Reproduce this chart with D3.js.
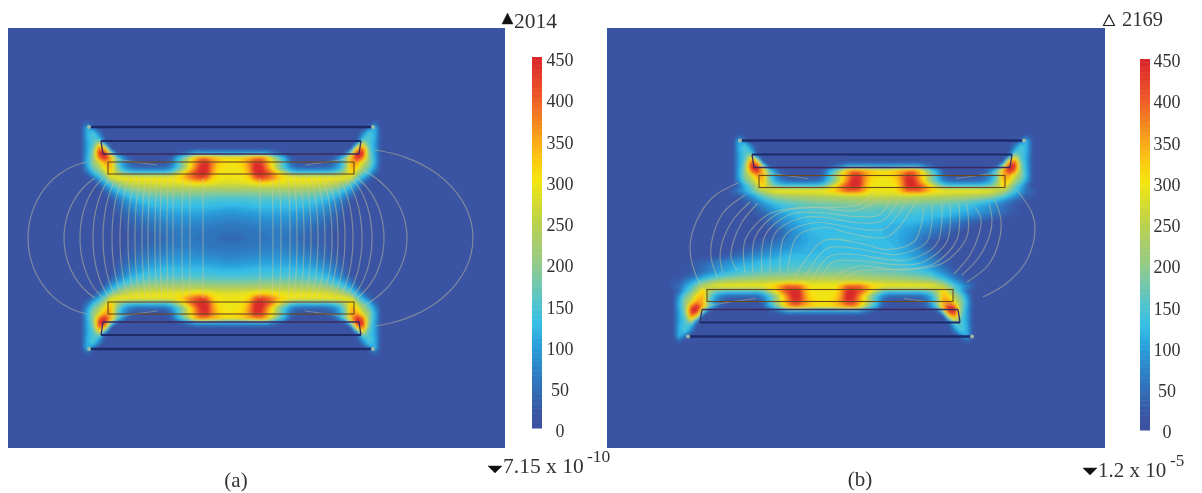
<!DOCTYPE html>
<html>
<head>
<meta charset="utf-8">
<script src="https://cdn.jsdelivr.net/npm/d3@7"></script>
<style>
    html, body { margin: 0; padding: 0; background: #fff; }
    svg { display: block; }
    text { font-family: "Liberation Serif", serif; fill: #333; }
</style>
</head>
<body>
<svg id="chart" width="1202" height="493"></svg>
<script>
// Colour bar
const barTicks = [0, 50, 100, 150, 200, 250, 300, 350, 400, 450];
const colorValues = [0, 15, 50, 100, 125, 150, 175, 200, 225, 250, 275, 300, 325, 350, 400, 450];
const colorHex = ['#3a4f9f', '#3a54a3', '#2f6fb8', '#2a9fdb', '#34bde6', '#4fc4cf', '#72c7ab', '#94cb86',
    '#a8cc6a', '#bcd24a', '#d7dc2c', '#f4e60f', '#fcc911', '#f9a51a', '#ee5a26', '#d8232c'];

// Field, one corner of the coil pair in (a).
// Columns run from the outer edge to the middle, rows from the top to the mid plane.
const backgroundValue = 15;
const cornerRows = [
    [15,15,15,15,15,15,15,15,15,15,15,15,15,15,15,15,15,15,15,15,15,15,15,15,15],
    [40,15,15,15,15,15,15,15,15,15,15,15,15,15,15,15,15,15,15,15,15,15,15,15,15],
    [120,60,12,12,12,12,12,12,12,12,12,12,12,12,12,12,12,12,12,12,12,12,12,12,12],
    [110,150,70,12,12,12,12,12,12,12,12,12,12,12,12,12,12,12,12,12,12,12,12,12,12],
    [110,150,120,15,12,12,12,12,12,12,12,12,12,12,12,12,12,12,12,12,12,12,12,12,12],
    [100,150,240,60,12,12,12,12,12,12,12,12,12,12,12,12,12,12,12,12,12,12,12,12,12],
    [100,170,380,300,15,12,12,12,12,12,12,12,12,12,12,12,12,12,12,12,12,12,12,12,12],
    [100,190,440,450,200,30,12,12,12,12,12,12,12,12,12,20,40,60,100,100,100,100,100,100,100],
    [110,200,380,440,350,180,90,30,15,15,15,15,15,15,30,110,170,250,340,390,380,350,330,315,310],
    [110,200,260,350,350,170,90,45,25,15,15,15,15,20,50,125,200,290,360,430,440,370,320,305,300],
    [90,170,220,310,340,190,110,70,50,45,45,45,45,50,80,135,195,290,370,450,450,360,310,300,295],
    [45,120,170,240,320,230,180,160,150,150,150,150,150,150,170,230,300,370,420,450,440,350,300,295,295],
    [15,50,110,170,270,300,300,300,300,300,300,300,300,300,300,310,330,370,400,420,390,320,300,295,290],
    [15,15,50,110,170,210,240,260,270,275,280,280,285,285,285,285,290,300,305,310,300,290,285,280,280],
    [15,15,15,60,110,150,180,200,215,225,230,235,235,240,240,240,240,240,240,240,240,235,235,235,235],
    [15,15,15,25,70,105,130,150,165,175,185,190,190,195,195,195,195,195,195,195,190,190,190,190,190],
    [15,15,15,15,35,65,90,115,130,145,150,155,155,160,160,160,160,160,160,160,160,155,155,155,155],
    [15,15,15,15,15,40,65,85,105,115,125,130,132,135,135,135,135,135,135,135,135,135,130,130,130],
    [15,15,15,15,15,30,50,70,85,95,105,110,115,118,120,120,120,120,120,120,120,115,115,110,110],
    [15,15,15,15,15,22,38,52,65,75,85,90,95,100,100,105,105,105,105,105,100,98,95,92,90],
    [15,15,15,15,15,18,28,40,50,60,68,75,80,85,88,90,90,90,90,88,85,82,80,78,75],
    [15,15,15,15,15,15,22,30,40,48,55,60,65,70,75,78,78,78,78,75,72,70,68,65,62],
    [15,15,15,15,15,15,18,25,32,38,45,50,55,60,65,68,70,70,68,65,62,60,58,56,55],
    [15,15,15,15,15,15,15,22,28,32,38,42,48,52,58,62,64,64,62,60,56,54,52,50,50],
    [15,15,15,15,15,15,15,20,25,30,34,38,42,48,54,58,60,60,58,56,52,50,48,46,46]
];
// How many cornerRows the offset coil in (b) reuses before the gap takes over
const sharedRows = 12;

// Field in the gap of (b), upper half only, the lower half is the same turned round
const gapRows = [
    [15,15,15,70,150,250,300,300,300,300,300,330,400,390,300,295,300,390,400,330,300,300,300,300,290,240,140,50,15],
    [15,15,15,25,90,165,210,225,235,240,245,250,255,260,265,265,260,260,255,250,245,240,235,225,210,160,90,30,15],
    [15,15,15,15,50,110,160,175,185,195,200,205,210,215,215,215,215,210,205,200,195,185,175,160,130,90,40,15,15],
    [15,15,15,15,25,75,115,140,155,160,165,170,175,180,180,175,175,170,165,160,155,145,135,110,85,50,20,15,15],
    [15,15,15,15,15,50,95,120,135,145,150,155,155,160,160,155,155,150,145,140,135,125,115,95,75,50,25,15,15],
    [15,15,15,15,15,30,75,105,125,135,140,145,145,145,145,140,140,135,130,125,120,105,90,70,50,30,15,15,15],
    [15,15,15,15,15,20,60,90,115,125,130,130,130,130,130,130,125,125,120,105,90,70,50,30,15,15,15,15,15],
    [15,15,15,15,15,15,45,80,105,120,125,125,125,125,125,120,115,110,100,85,65,45,25,15,15,15,15,15,15],
    [15,15,15,15,15,15,30,65,100,120,125,125,125,125,125,120,115,105,85,65,45,25,15,15,15,15,15,15,15],
    [15,15,15,15,15,15,25,65,95,115,125,130,130,130,130,120,115,95,70,50,30,15,15,15,15,15,15,15,15]
];

// Coil outline, distances from the coil's own centre
const conductorHalfWidths = [141, 130, 128];
const conductorHeights = [111, 97, 84];
const conductorWeights = [2.6, 1.8, 1.4];
const windingHalfWidth = 123;
const windingHeights = [76, 64];

// Flux lines of (a): offset at the mid plane, offset at the coil, height at the coil, swing of the arc
const leftMidOffsets = [203, 167, 151, 138, 128, 119, 111, 103, 96, 89, 83, 76, 71, 64, 58, 49, 41, 28];
const leftEndOffsets = [144, 136, 128, 121, 114, 108, 102, 96, 91, 85, 80, 74, 69, 63, 57, 48, 41, 28];
const leftEndHeights = [76, 60, 60, 60, 60, 60, 60, 60, 60, 60, 60, 60, 60, 60, 60, 60, 60, 60];
const rightMidOffsets = [242, 176, 153, 141, 131, 122, 114, 107, 101, 94, 87, 80, 73, 66, 59, 50, 42, 29];
const rightEndOffsets = [144, 132, 126, 120, 114, 108, 102, 96, 91, 85, 80, 74, 69, 63, 57, 48, 41, 29];
const rightEndHeights = [88, 68, 60, 60, 60, 60, 60, 60, 60, 60, 60, 60, 60, 60, 60, 60, 60, 60];
const outerSwing = 80;
const innerSwing = 60;

// Flux lines of (b), read as x,y pairs relative to the middle of the panel
const outerArcsB = [
    [[-118, 55.5], [-143, 41.5], [-159, 18.5], [-166, -8.5], [-161, -34.5], [-154, -48.5]],
    [[-111, 43.5], [-133, 25.5], [-144, -1.5], [-145, -18.5], [-139, -38.5]],
    [[-106, 36.5], [-123, 18.5], [-134, -4.5], [-136, -19.5], [-133, -34.5]],
    [[-98, 35.5], [-114, 16.5], [-123, -4.5], [-125, -19.5], [-119, -31.5]]
];
const extraArcB = [[161, 48.5], [176, 25.5], [179, 8.5], [171, -21.5], [151, -44.5], [127, -58.5]];
const waveLinesB = [
    [[-111, -34], [-111, -2], [-88, 24], [-56, 31], [0, 33], [18, 46]],
    [[-103, -35], [-101, 1], [-78, 25], [-41, 31], [0, 28], [28, 43]],
    [[-94, -35], [-91, 3], [-66, 24], [-36, 26], [0, 22], [24, 24], [36, 43]],
    [[-86, -35], [-81, 5], [-53, 21], [-31, 21], [0, 16], [27, 18], [44, 41]],
    [[-76, -35], [-71, 3], [-41, 16], [-21, 14], [0, 10], [29, 10], [52, 40]],
    [[-68, -32], [-59, 2], [-31, 11], [-13, 7], [0, 4], [32, 2], [61, 38]]
];
const channelLine = [[121, 80], [97, 76], [74, 73]];

const fieldColor = d3.scaleLinear().domain(colorValues).range(colorHex);
const bandEdges = d3.range(20, 450, 10);
const svg = d3.select('#chart');

// Soft look of the scan
const defs = svg.append('defs');
[['soft', 1.2], ['softLine', 0.65], ['softText', 0.3]].forEach(([id, sd]) => {
    const f = defs.append('filter').attr('id', id)
        .attr('x', '-5%').attr('y', '-5%').attr('width', '110%').attr('height', '110%');
    f.append('feGaussianBlur').attr('stdDeviation', sd);
});

// Mirror the corner into all four corners of (a)
function buildGridA() {
    const cols = 53, rows = 49;
    const grid = new Array(cols * rows).fill(backgroundValue);
    cornerRows.forEach((row, r) => {
        row.forEach((v, i) => {
            const off = row.length - 1 - i;
            [r, rows - 1 - r].forEach(rr => {
                grid[rr * cols + 26 - off] = v;
                grid[rr * cols + 26 + off] = v;
            });
        });
    });
    return { grid, cols, rows, x0: -156, y0: 120 };
}

// Offset coil plus gap for (b), then turn the upper half round for the lower half
function buildGridB() {
    const cols = 61, rows = 44;
    const grid = new Array(cols * rows).fill(backgroundValue);
    for (let r = 0; r < sharedRows; r++) {
        cornerRows[r].forEach((v, i) => {
            const off = cornerRows[r].length - 1 - i;
            grid[r * cols + 35 - off] = v;
            grid[r * cols + 35 + off] = v;
        });
    }
    gapRows.forEach((row, g) => {
        const r = sharedRows + g;
        row.forEach((v, i) => {
            const c = 5 + i * 2;
            grid[r * cols + c] = v;
            if (i < row.length - 1) grid[r * cols + c + 1] = (v + row[i + 1]) / 2;
        });
    });
    for (let r = 0; r < rows / 2; r++) {
        for (let c = 0; c < cols; c++) {
            grid[(rows - 1 - r) * cols + (cols - 1 - c)] = grid[r * cols + c];
        }
    }
    return { grid, cols, rows, x0: -183, y0: 107.5 };
}

function drawField(g, field, x, y) {
    const contours = d3.contours().size([field.cols, field.rows]).thresholds(bandEdges)(field.grid);
    const path = d3.geoPath(d3.geoTransform({
        point(px, py) {
            this.stream.point(x(field.x0 + (px - 0.5) * 6), y(field.y0 - (py - 0.5) * 5));
        }
    }));
    g.append('g').attr('filter', 'url(#soft)')
        .selectAll('path').data(contours).join('path')
        .attr('d', path)
        .attr('fill', d => fieldColor(d.value + 5));
}

function drawCoil(g, x, y, cx, shift, sign) {
    const yy = h => y(sign * (h + shift));
    // dark conductor edges
    conductorHeights.forEach((h, i) => {
        g.append('line')
            .attr('x1', x(cx - conductorHalfWidths[i])).attr('x2', x(cx + conductorHalfWidths[i]))
            .attr('y1', yy(h)).attr('y2', yy(h))
            .attr('stroke', i === 2 ? '#3b2a5e' : '#1c2a68')
            .attr('stroke-width', conductorWeights[i]);
    });
    [-1, 1].forEach(side => {
        g.append('line')
            .attr('x1', x(cx + side * conductorHalfWidths[1])).attr('x2', x(cx + side * conductorHalfWidths[2]))
            .attr('y1', yy(conductorHeights[1])).attr('y2', yy(conductorHeights[2]))
            .attr('stroke', '#3b2a5e').attr('stroke-width', 1.3);
        g.append('circle')
            .attr('cx', x(cx + side * (conductorHalfWidths[0] + 1))).attr('cy', yy(conductorHeights[0]))
            .attr('r', 2).attr('fill', '#9db8a8');
        // faint line inside the channel
        const line = d3.line().curve(d3.curveBasis)
            .x(d => x(cx + side * d[0])).y(d => yy(d[1]));
        g.append('path').attr('d', line(channelLine))
            .attr('fill', 'none').attr('stroke', '#c9c48f').attr('stroke-width', 1).attr('opacity', 0.45);
    });
    // winding box
    g.append('rect')
        .attr('x', x(cx - windingHalfWidth))
        .attr('y', Math.min(yy(windingHeights[0]), yy(windingHeights[1])))
        .attr('width', x(cx + windingHalfWidth) - x(cx - windingHalfWidth))
        .attr('height', Math.abs(yy(windingHeights[0]) - yy(windingHeights[1])))
        .attr('fill', 'none').attr('stroke', '#6a4a1c').attr('stroke-width', 1.1);
}

function drawFluxLine(g, pts, x, y, curve) {
    const line = d3.line().curve(curve).x(d => x(d[0])).y(d => y(d[1]));
    g.append('path').attr('d', line(pts))
        .attr('fill', 'none').attr('stroke', '#cfca96')
        .attr('stroke-width', 1.2).attr('opacity', 0.45);
}

// Arc from the upper coil through the mid plane to the lower coil, bowed like the picture
function archPoints(side, mid, end, height, swing) {
    const s = swing * Math.PI / 180;
    return d3.range(-1, 1.01, 0.125).map(t => {
        const a = t * s;
        const bow = (Math.cos(a) - Math.cos(s)) / (1 - Math.cos(s));
        return [side * (end + (mid - end) * bow), height * Math.sin(a) / Math.sin(s)];
    });
}

function addPanel(id, x, y, field) {
    const [x0, x1] = x.range();
    const [y0, y1] = y.range();
    defs.append('clipPath').attr('id', 'clip' + id).append('rect')
        .attr('x', x0).attr('y', y0).attr('width', x1 - x0).attr('height', y1 - y0);
    const g = svg.append('g').attr('clip-path', `url(#clip${id})`);
    g.append('rect').attr('x', x0).attr('y', y0).attr('width', x1 - x0).attr('height', y1 - y0)
        .attr('fill', fieldColor(backgroundValue));
    drawField(g, field, x, y);
    return g.append('g').attr('filter', 'url(#softLine)');
}

function addColorBar(x, barWidth, labelX, y, labelShift) {
    const g = svg.append('g');
    const values = d3.range(0, 450, 2);
    g.append('g').attr('filter', 'url(#softLine)')
        .selectAll('rect').data(values).join('rect')
        .attr('x', x).attr('width', barWidth)
        .attr('y', d => y(d + 2)).attr('height', d => y(d) - y(d + 2) + 0.5)
        .attr('fill', d => fieldColor(d));
    const axis = svg.append('g').attr('filter', 'url(#softText)')
        .attr('transform', `translate(${labelX},${labelShift})`)
        .call(d3.axisRight(y).tickValues(barTicks).tickSize(0).tickPadding(0));
    axis.select('.domain').remove();
    axis.selectAll('text')
        .attr('text-anchor', 'middle')
        .attr('font-family', '"Liberation Serif", serif')
        .style('font-size', '18px')
        .style('fill', '#333');
}

function addLabel(x, y, txt, size, anchor) {
    svg.append('text').attr('x', x).attr('y', y)
        .attr('text-anchor', anchor || 'start')
        .attr('filter', 'url(#softText)')
        .style('font-size', size + 'px')
        .text(txt);
}

function addMarker(points, filled) {
    svg.append('polygon')
        .attr('points', points.map(p => p.join(',')).join(' '))
        .attr('fill', filled ? '#111' : 'none')
        .attr('stroke', '#222').attr('stroke-width', filled ? 0.5 : 1.2);
}

// Panel (a)
const xA = d3.scaleLinear().domain([-223, 274]).range([8, 505]);
const yA = d3.scaleLinear().domain([210, -210]).range([28, 448]);
const linesA = addPanel('A', xA, yA, buildGridA());
leftMidOffsets.forEach((m, i) => {
    const swing = i === 0 ? outerSwing : innerSwing;
    drawFluxLine(linesA, archPoints(-1, m, leftEndOffsets[i], leftEndHeights[i], swing), xA, yA, d3.curveCatmullRom);
});
rightMidOffsets.forEach((m, i) => {
    const swing = i === 0 ? outerSwing : innerSwing;
    drawFluxLine(linesA, archPoints(1, m, rightEndOffsets[i], rightEndHeights[i], swing), xA, yA, d3.curveCatmullRom);
});
drawCoil(linesA, xA, yA, 0, 0, 1);
drawCoil(linesA, xA, yA, 0, 0, -1);

// Panel (b)
const xB = d3.scaleLinear().domain([-249, 249]).range([607, 1105]);
const yB = d3.scaleLinear().domain([210.5, -209.5]).range([28, 448]);
const linesB = addPanel('B', xB, yB, buildGridB());
const turned = pts => pts.map(p => [-p[0], -p[1]]);
outerArcsB.forEach((pts, i) => {
    drawFluxLine(linesB, pts, xB, yB, d3.curveCatmullRom);
    if (i > 0) drawFluxLine(linesB, turned(pts), xB, yB, d3.curveCatmullRom);
});
drawFluxLine(linesB, extraArcB, xB, yB, d3.curveCatmullRom);
waveLinesB.forEach(pts => {
    drawFluxLine(linesB, pts, xB, yB, d3.curveCatmullRom);
    drawFluxLine(linesB, turned(pts), xB, yB, d3.curveCatmullRom);
});
drawCoil(linesB, xB, yB, 26, -13, 1);
drawCoil(linesB, xB, yB, -26, -13, -1);

// Colour bars
addColorBar(532, 10, 560, d3.scaleLinear().domain([0, 450]).range([428, 57]), 3);
addColorBar(1140, 10, 1167, d3.scaleLinear().domain([0, 450]).range([430, 59]), 2);

// Max and min markers, captions
addMarker([[507.5, 13], [513, 24], [502, 24]], true);
addLabel(514, 28, '2014', 21.5);
addMarker([[488, 466], [502, 466], [495, 473]], true);
addLabel(503, 473, '7.15 x 10', 21.5);
addLabel(587, 462, '-10', 17.5);
addLabel(236, 487, '(a)', 21, 'middle');

addMarker([[1109, 15], [1114.5, 25.5], [1103.5, 25.5]], false);
addLabel(1122, 26, '2169', 20.5);
addMarker([[1083, 468], [1097, 468], [1090, 475]], true);
addLabel(1098, 477, '1.2 x 10', 21);
addLabel(1170, 466, '-5', 17);
addLabel(860, 486, '(b)', 21, 'middle');
</script>
</body>
</html>
